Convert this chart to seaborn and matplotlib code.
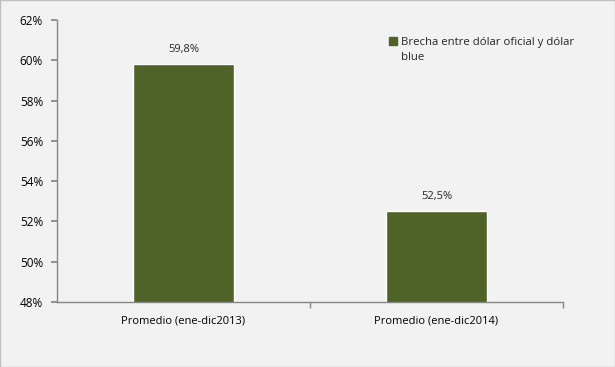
import seaborn as sns
import pandas as pd
from matplotlib import pyplot as plt
from matplotlib import ticker as tick
from matplotlib.patches import Patch

categorias = ["Promedio (ene-dic2013)", "Promedio (ene-dic2014)"]
brecha = [59.8, 52.5]
serie = "Brecha entre dólar oficial y dólar\nblue"

BG = "#f2f2f2"
BAR = "#4f6228"
AXIS = "#868686"


def main():
    sns.set_theme(style="white")
    plt.rcParams["font.family"] = ["Open Sans", "DejaVu Sans"]
    df = pd.DataFrame({"cat": categorias, "val": brecha})

    fig = plt.figure(figsize=(6.15, 3.67), dpi=100, facecolor=BG)
    fig.patches.append(plt.Rectangle((0, 0), 1, 1, transform=fig.transFigure,
                                     fill=False, edgecolor="#bfbfbf", linewidth=1))
    ax = fig.add_axes([0.0927, 0.177, 0.8227, 0.7685])
    ax.set_facecolor(BG)
    sns.barplot(data=df, x="cat", y="val", color=BAR, width=0.40, saturation=1, ax=ax)

    ax.set_ylim(48, 62)
    ax.set_xlim(-0.5, 1.5)
    ax.yaxis.set_major_locator(tick.MultipleLocator(2))
    ax.yaxis.set_major_formatter(tick.FuncFormatter(lambda v, p: f"{v:.0f}%"))
    ax.set_xlabel("")
    ax.set_ylabel("")

    for s in ["top", "right"]:
        ax.spines[s].set_visible(False)
    for s in ["left", "bottom"]:
        ax.spines[s].set_color(AXIS)
        ax.spines[s].set_linewidth(1)

    ax.tick_params(axis="y", which="major", length=4, color=AXIS, labelsize=8.5, pad=6,
                   left=True, labelcolor="black")
    ax.tick_params(axis="x", which="major", length=0, labelsize=8, pad=10, labelcolor="black")
    ax.set_xticks([0.5, 1.5], minor=True)
    ax.tick_params(axis="x", which="minor", length=4, color=AXIS, bottom=True)

    for i, v in enumerate(brecha):
        ax.text(i, v + 0.45, f"{v:.1f}%".replace(".", ","), ha="center", va="bottom",
                fontsize=8)

    handle = Patch(facecolor=BAR, edgecolor=BAR)
    leg = ax.legend([handle], [serie], loc="upper left", bbox_to_anchor=(0.647, 0.955),
                    frameon=False, fontsize=8.2, handlelength=0.7, handleheight=0.7,
                    handletextpad=0.35, borderaxespad=0)
    for t in leg.get_texts():
        t.set_linespacing(1.45)
    # marker next to the first line, like Excel does
    for row in leg._legend_handle_box.get_children():
        for item in row.get_children():
            item.align = "top"

    plt.savefig("out.png", dpi=100, facecolor=BG)


if __name__ == "__main__":
    main()
